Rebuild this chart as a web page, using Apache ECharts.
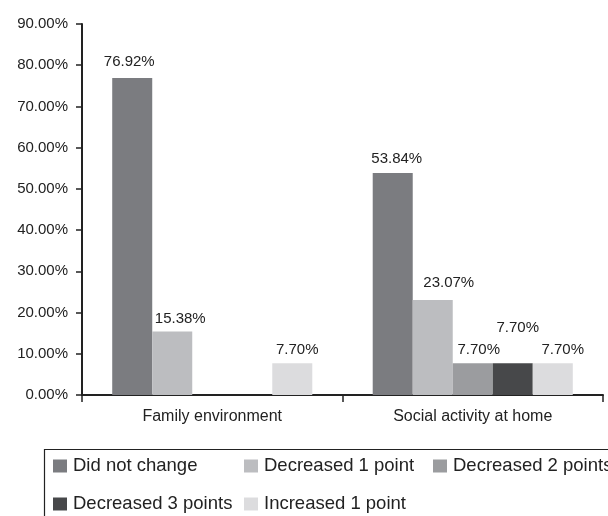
<!DOCTYPE html>
<html>
<head>
<meta charset="utf-8">
<script src="https://cdn.jsdelivr.net/npm/echarts@6/dist/echarts.min.js"></script>
<style>html,body{margin:0;padding:0;background:#fff}#c{width:608px;height:516px}</style>
</head>
<body>
<div id="c"></div>
<script>
var categories = ['Family environment', 'Social activity at home'];
var seriesNames = ['Did not change', 'Decreased 1 point', 'Decreased 2 points', 'Decreased 3 points', 'Increased 1 point'];
var didNotChange = [76.92, 53.84];
var decreased1 = [15.38, 23.07];
var decreased2 = [null, 7.70];
var decreased3 = [null, 7.70];
var increased1 = [7.70, 7.70];
var yTicks = [0, 10, 20, 30, 40, 50, 60, 70, 80, 90];

var seriesValues = [didNotChange, decreased1, decreased2, decreased3, increased1];
var colors = ['#7b7c80', '#bcbdc0', '#9b9c9f', '#47484a', '#dcdcde'];
// label nudges [dx, dy] per series per category (style only)
var labelNudges = [
  [[-3, -2], [4, 0]],
  [[8, 2], [16, -3]],
  [[0, 0], [6, 1]],
  [[0, 0], [5, -21]],
  [[5, 1], [10, 1]]
];
var FONT = '"Liberation Sans", Arial, Helvetica, sans-serif';
var TXT = '#222';

var series = seriesValues.map(function (vals, si) {
  return {
    name: seriesNames[si],
    type: 'bar',
    barGap: '0%',
    barCategoryGap: '23.2%',
    itemStyle: { color: colors[si] },
    label: {
      show: true, position: 'top', distance: 7,
      fontFamily: FONT, fontSize: 15, color: TXT,
      formatter: function (p) { return p.value == null ? '' : Number(p.value).toFixed(2) + '%'; }
    },
    emphasis: { disabled: true },
    data: vals.map(function (v, ci) {
      if (v == null) return '-';
      return { value: v, label: { offset: labelNudges[si][ci] } };
    })
  };
});

var legendPos = [[53, 456], [244, 456], [433, 456], [53, 494], [244, 494]];
var legends = seriesNames.map(function (n, i) {
  return {
    data: [n], left: legendPos[i][0], top: legendPos[i][1], padding: 0,
    itemWidth: 14, itemHeight: 13, icon: 'rect', itemGap: 0,
    selectedMode: false,
    textStyle: { fontFamily: FONT, fontSize: 18.5, color: TXT, lineHeight: 20, padding: [0, 0, 0, 1] }
  };
});

var chart = echarts.init(document.getElementById('c'));
chart.setOption({
  animation: false,
  color: colors,
  grid: { left: 82, right: 5, top: 24, bottom: 121, containLabel: false },
  xAxis: {
    type: 'category', data: categories,
    axisLine: { lineStyle: { color: TXT, width: 2 } },
    axisTick: { show: true, length: 7, lineStyle: { color: TXT, width: 1.5 } },
    axisLabel: { fontFamily: FONT, fontSize: 16, color: TXT, margin: 14 }
  },
  yAxis: {
    type: 'value', min: yTicks[0], max: yTicks[yTicks.length - 1], interval: yTicks[1] - yTicks[0],
    splitLine: { show: false },
    axisLine: { show: true, lineStyle: { color: TXT, width: 2 } },
    axisTick: { show: true, length: 6, lineStyle: { color: TXT, width: 1.5 } },
    axisLabel: { fontFamily: FONT, fontSize: 15, color: TXT, margin: 14,
      formatter: function (v) { return v.toFixed(2) + '%'; } }
  },
  legend: legends,
  graphic: [{
    type: 'rect', left: 42, top: 447, silent: true,
    shape: { width: 620, height: 100 },
    style: { fill: 'none', stroke: TXT, lineWidth: 1.2 }
  }],
  series: series
});
</script>
</body>
</html>
